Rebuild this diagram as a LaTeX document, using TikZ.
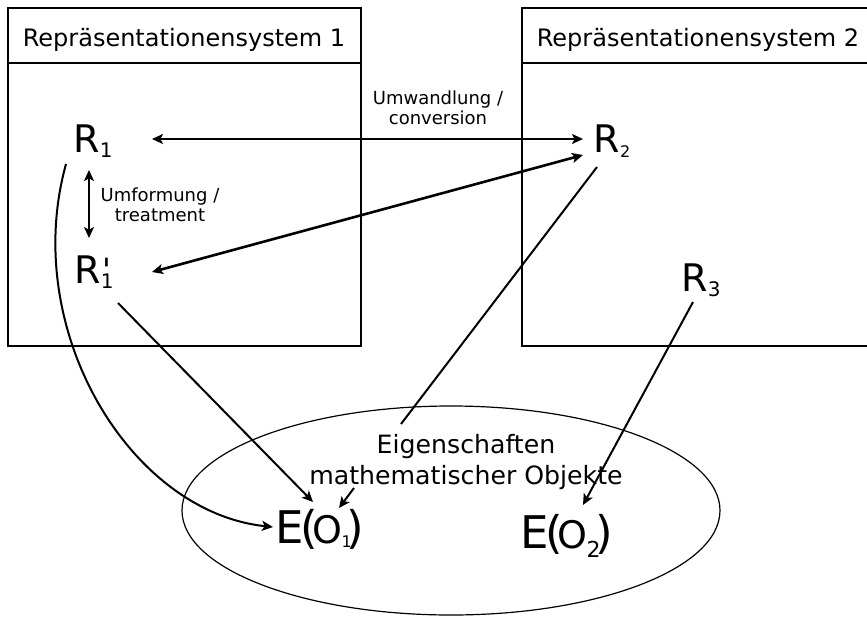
\documentclass[tikz,border=0pt]{standalone}
\usepackage{fontspec}
\setmainfont{DejaVu Sans}
\usetikzlibrary{arrows.meta,shapes.geometric}
\newcommand{\lowidx}[2][10]{\raisebox{-2.5pt}{\fontsize{#1}{#1}\selectfont #2}}
\newcommand{\primeidx}[1]{\rlap{\kern1pt\raisebox{1pt}{\fontsize{16}{16}\selectfont\textquotesingle}}\lowidx{#1}}

\begin{document}
\begin{tikzpicture}[
        x=0.5pt, y=-0.5pt,
        sysframe/.style={draw, line width=0.8pt},
        systitle/.style={anchor=base, font=\fontsize{12}{14}\selectfont},
        rep/.style={inner sep=0pt, font=\fontsize{19}{22}\selectfont},
        prop/.style={inner sep=0pt, font=\fontsize{22.5}{26}\selectfont},
        note/.style={align=center, inner sep=0pt, font=\fontsize{9}{10}\selectfont},
        arr/.style={-{Stealth[length=5.5pt, width=5pt, inset=1.3pt]}, line width=1pt},
        dbl/.style={{Stealth[length=5.5pt, width=5pt, inset=1.3pt]}-{Stealth[length=5.5pt, width=5pt, inset=1.3pt]}, line width=1.3pt},
        link/.style={line width=1pt}
    ]
        \useasboundingbox (0,0) rectangle (867,616);

        \draw[sysframe] (8,8) rectangle (361,346);
        \draw[sysframe] (8,63) -- (361,63);
        \draw[sysframe] (522,8) rectangle (880,346);
        \draw[sysframe] (522,63) -- (880,63);
        \node[systitle] (sys1) at (184,46) {Repräsentationensystem 1};
        \node[systitle] (sys2) at (698,46) {Repräsentationensystem 2};

        \node[rep] (r1)  at (93,141)  {R\lowidx{1}};
        \node[rep] (r1p) at (94,272)  {R\primeidx{1}};
        \node[rep] (r2)  at (612,141) {R\lowidx[8]{2}};
        \node[rep] (r3)  at (701,280) {R\lowidx[10]{3}};

        \node[note] (conv)  at (438,108) {Umwandlung /\\conversion};
        \node[note] (treat) at (160,205) {Umformung /\\treatment};

        \node[draw, ellipse, line width=0.6pt, minimum width=269pt, minimum height=104.5pt] (props) at (451,510.5) {};
        \node[align=center, inner sep=0pt, font=\fontsize{12.6}{15.5}\selectfont] (eig) at (466,462)
            {Eigenschaften\\mathematischer Objekte};
        \node[prop] (eo1) at (320,529)
            {E\kern-2pt(\kern-2.5pt{\fontsize{19}{19}\selectfont O}\kern-0.5pt\raisebox{-2pt}{\fontsize{8}{8}\selectfont 1}\kern-2.5pt)};
        \node[prop] (eo2) at (567,536)
            {E\kern-2pt(\kern-2.5pt{\fontsize{19}{19}\selectfont O}\kern-0.5pt\raisebox{-4.5pt}{\fontsize{11}{11}\selectfont 2}\kern-2.5pt)};

        \draw[dbl] ([shift={(59,-2)}]r1.center) -- ([shift={(-29,-2)}]r2.center);
        \draw[dbl] ([shift={(-29,14)}]r2.center) -- ([shift={(58,0)}]r1p.center);
        \draw[dbl, line width=0.9pt] ([shift={(-4,29)}]r1.center) -- ([shift={(-5,-34)}]r1p.center);
        \draw[link] ([shift={(-15,26)}]r2.center) -- ([shift={(-65,-38)}]eig.center);
        \draw[arr] ([shift={(24,31)}]r1p.center) -- ([shift={(-7,-27)}]eo1.center);
        \draw[arr] ([shift={(-27,23)}]r1.center) .. controls +(-46,166) and +(-143,-15) .. ([shift={(-47,-2)}]eo1.center);
        \draw[arr] ([shift={(-112,26)}]eig.center) -- ([shift={(19,-21)}]eo1.center);
        \draw[arr] ([shift={(-8,22)}]r3.center) -- ([shift={(16,-31)}]eo2.center);
    \end{tikzpicture}
\end{document}
